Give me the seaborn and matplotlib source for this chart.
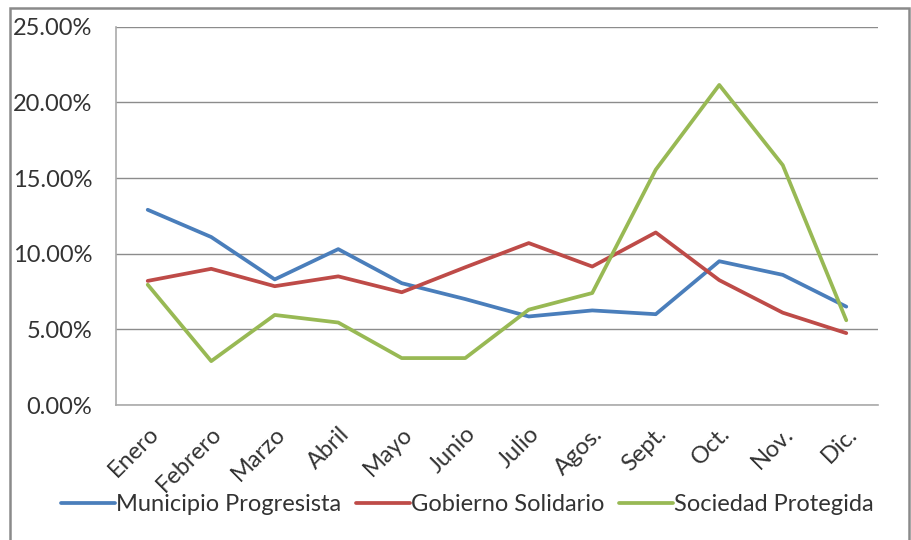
import matplotlib
matplotlib.use("Agg")
import matplotlib.pyplot as plt
import matplotlib.patches as mpatches
from matplotlib.ticker import FixedLocator, PercentFormatter
import pandas as pd
import seaborn as sns

# data (percent)
months = ["Enero", "Febrero", "Marzo", "Abril", "Mayo", "Junio",
          "Julio", "Agos.", "Sept.", "Oct.", "Nov.", "Dic."]
municipio = [12.9, 11.1, 8.3, 10.3, 8.05, 7.0, 5.85, 6.25, 6.0, 9.5, 8.6, 6.5]
gobierno = [8.2, 9.0, 7.85, 8.5, 7.45, 9.1, 10.7, 9.15, 11.4, 8.25, 6.1, 4.75]
sociedad = [7.95, 2.9, 5.95, 5.45, 3.1, 3.1, 6.3, 7.4, 15.55, 21.15, 15.85, 5.6]
series_names = ["Municipio Progresista", "Gobierno Solidario", "Sociedad Protegida"]
colors = ["#4A7EBB", "#BE4B48", "#98B954"]

# long form table for seaborn
df = pd.DataFrame({
    "mes": list(range(len(months))) * 3,
    "valor": municipio + gobierno + sociedad,
    "serie": [s for s in series_names for _ in months],
})

sns.set_style("white")
plt.rcParams["font.family"] = ["Lato", "DejaVu Sans"]

fig = plt.figure(figsize=(9.11, 5.40), dpi=100)
ax = fig.add_axes([0.1273, 0.25, 0.8365, 0.7006])

sns.lineplot(data=df, x="mes", y="valor", hue="serie", hue_order=series_names,
             palette=colors, linewidth=2.7, ax=ax, legend=True)

ax.set_xlim(-0.5, len(months) - 0.5)
ax.set_ylim(0, 25)
ax.set_yticks([0, 5, 10, 15, 20, 25])
ax.yaxis.set_major_formatter(PercentFormatter(decimals=2))
ax.set_xticks(range(len(months)))
ax.set_xticklabels(months, rotation=45, ha="right", rotation_mode="anchor")
ax.xaxis.set_minor_locator(FixedLocator([i - 0.5 for i in range(len(months) + 1)]))
ax.tick_params(axis="x", which="major", length=0, pad=13, labelsize=17, colors="#333333")
ax.tick_params(axis="x", which="minor", length=5, width=1, color="#999999", direction="out")
ax.tick_params(axis="y", length=5, width=1, color="#999999", direction="out",
               labelsize=17, labelcolor="#333333", pad=12)
ax.set_xlabel("")
ax.set_ylabel("")

ax.grid(axis="y", color="#8c8c8c", linewidth=1)
ax.set_axisbelow(True)
for side in ["top", "right"]:
    ax.spines[side].set_visible(False)
for side in ["left", "bottom"]:
    ax.spines[side].set_color("#aaaaaa")
    ax.spines[side].set_linewidth(1.2)

handles, labels = ax.get_legend_handles_labels()
ax.legend_.remove()
leg = fig.legend(handles, labels, loc="center", bbox_to_anchor=(0.513, 0.066), ncol=3,
                 frameon=False, fontsize=17, handlelength=2.3, handletextpad=0.05,
                 columnspacing=0.6)
for t in leg.get_texts():
    t.set_color("#333333")

# outer chart frame
fig.patches.append(mpatches.Rectangle((10 / 911, -0.01), 899 / 911, 1 - 8 / 540 + 0.01,
                                      transform=fig.transFigure, fill=False,
                                      edgecolor="#8a8a8a", linewidth=1.8))

fig.savefig("out.png", dpi=100)
